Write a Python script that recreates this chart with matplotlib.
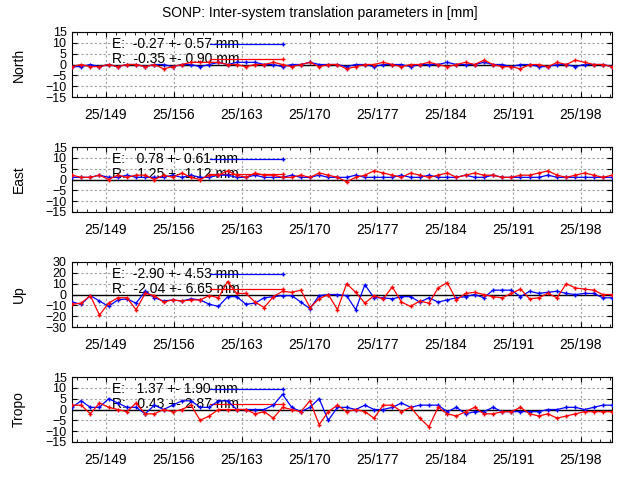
import numpy as np
import matplotlib
matplotlib.use("Agg")
import matplotlib.pyplot as plt
from matplotlib.patches import Rectangle

plt.rcParams["font.family"] = "Liberation Sans"
plt.rcParams["font.size"] = 10

tick_days = [149, 156, 163, 170, 177, 184, 191, 198]
tick_labels = ["25/149", "25/156", "25/163", "25/170", "25/177", "25/184", "25/191", "25/198"]

north_e = [-1, -1, 0, -1, 0, -1, 0, 0, -1, 0, 0, -1, 0, 0, -1, 0, 1, 0, 1, 1, 1, 0, 0, -1, 0, 0, 1, 0, 0, 0,
           -1, 0, 0, -1, 0, 0, 0, -1, 0, 0, 0, 1, 0, 0, 0, 1, 0, 0, -1, 0, 0, -1, -1, 0, 0, -1, 0, 0, 0, -1]
north_r = [-1, 0, -1, -1, 0, -1, 0, 0, -1, 0, -2, -1, 0, 1, 1, 1, 1, 0, 0, -1, 0, 0, 1, 0, -1, 0, 1, -1, 0, 0,
           -2, -1, 0, 0, 1, 0, -1, 0, 0, 1, 0, -1, 0, 1, 0, 2, 0, -1, -1, -2, 0, 0, -1, 1, 0, 2, 1, 0, 0, -1]
east_e = [1, 1, 1, 2, 1, 1, 2, 1, 1, 1, 1, 2, 1, 2, 1, 1, 2, 2, 1, 1, 2, 1, 1, 1, 2, 1, 1, 2, 1, 1,
          1, 2, 1, 1, 1, 1, 2, 1, 1, 2, 1, 1, 1, 2, 1, 1, 2, 1, 1, 1, 1, 1, 2, 1, 1, 1, 1, 1, 1, 1]
east_r = [2, 1, 1, 2, 0, 2, 1, 2, 2, 0, 2, 1, 3, 1, 0, 2, 2, 4, 2, 1, 3, 2, 2, 1, 1, 2, 1, 3, 2, 1,
          -1, 1, 2, 4, 3, 2, 1, 3, 2, 1, 2, 3, 1, 2, 3, 2, 2, 1, 1, 2, 2, 3, 4, 2, 1, 2, 3, 2, 1, 2]
up_e = [-7, -9, -1, -6, -11, -5, -4, -8, 3, -3, -6, -5, -6, -4, -5, -9, -11, -2, -2, -9, -8, -3, -2, -1, -1, -7, -13, -1, 0, 0,
        -1, -14, 9, -3, -3, -4, -2, -2, -7, -3, -7, -5, -3, -2, 0, -3, 4, 4, 4, -2, 3, 1, 2, 3, 1, 0, 1, 1, -3, -3]
up_r = [-9, -8, -1, -19, -8, -3, -3, -14, 1, -1, -7, -5, -6, -5, -5, -1, -3, 12, 1, 1, -7, -12, -2, 3, 2, 4, -12, -4, 0, -14,
        10, 2, -8, -1, -4, 7, -7, -11, -6, -8, 6, 11, -5, 1, 2, 0, -2, -3, 1, 5, -4, -3, 1, -3, 10, 6, 5, 4, 0, 0]
tropo_e = [1, 4, 1, 1, 5, 3, 1, 1, -2, 2, 0, 2, 4, 4, 1, 1, 4, 4, 0, 0, 0, 0, 2, 7, 1, -1, 1, 5, -5, 1,
           1, 0, 2, 0, 0, 1, 3, 1, 2, 2, 2, -1, 1, -2, -1, -1, 1, -1, -1, -1, -1, -1, 0, 0, 1, 1, 0, 1, 2, 2]
tropo_r = [2, 2, -2, 3, 1, 0, -1, 3, -2, -2, 0, -1, 0, 2, -5, -3, 0, 0, 0, 0, -2, -1, -4, 1, 0, -1, 4, -7, -1, 2,
           -1, 0, -1, -4, 2, 2, -1, 1, -4, -8, 1, -2, -3, -1, 1, -2, -2, -1, -1, 1, -2, -3, -2, -4, -3, -2, -1, -1, -1, -1]

panels = [
    ("North", north_e, north_r, 15, 5, "E:  -0.27 +- 0.57 mm", "R:  -0.35 +- 0.90 mm"),
    ("East", east_e, east_r, 15, 5, "E:   0.78 +- 0.61 mm", "R:   1.25 +- 1.12 mm"),
    ("Up", up_e, up_r, 30, 10, "E:  -2.90 +- 4.53 mm", "R:  -2.04 +- 6.65 mm"),
    ("Tropo", tropo_e, tropo_r, 15, 5, "E:   1.37 +- 1.90 mm", "R:   0.43 +- 2.87 mm"),
]

x0, x1 = 145.5, 201.2
fig = plt.figure(figsize=(6.4, 4.8), dpi=100)
fig.text(0.5, 0.965, "SONP: Inter-system translation parameters in [mm]", ha="center", fontsize=10)
tops = [32, 147, 262, 377]
for (name, e, r, lim, step, le, lr), top in zip(panels, tops):
    ax = fig.add_axes([72 / 640, 1 - (top + 65) / 480, 540 / 640, 65 / 480])
    xd = np.linspace(x0, x1, len(e))
    ax.set_xlim(x0, x1)
    ax.set_ylim(-lim, lim)
    ax.set_yticks(np.arange(-lim, lim + 1, step))
    ax.set_xticks(tick_days)
    ax.set_xticklabels(tick_labels)
    ax.set_xticks(np.arange(146, 202), minor=True)
    ax.tick_params(direction="in", which="both", top=True, right=True, pad=8)
    ax.tick_params(axis="y", labelsize=9, pad=4)
    ax.tick_params(axis="x", which="minor", length=2)
    ax.grid(True, color="#a0a0a0", linestyle=(0, (2, 2)), linewidth=0.8, zorder=0)
    ax.add_patch(Rectangle((0, 0.5), 0.817, 0.5, transform=ax.transAxes, facecolor="white",
                           edgecolor="none", zorder=1))
    ax.axhline(0, color="black", linewidth=1, zorder=2)
    ax.plot(xd, e, color="blue", marker="+", markersize=3, linewidth=0.9, zorder=3)
    ax.plot(xd, r, color="red", marker="+", markersize=3, linewidth=0.9, zorder=3)
    ax.set_ylabel(name)
    ax.yaxis.set_label_coords(-0.085, 0.5)
    for yy, txt, col in [(0.82, le, "blue"), (0.58, lr, "red")]:
        ax.text(0.075, yy, txt, transform=ax.transAxes, va="center", zorder=2)
        ax.plot([0.255, 0.39], [yy, yy], transform=ax.transAxes, color=col, marker="+",
                markevery=[1], markersize=3, linewidth=0.9, zorder=2)

fig.savefig("out.png", dpi=100)
